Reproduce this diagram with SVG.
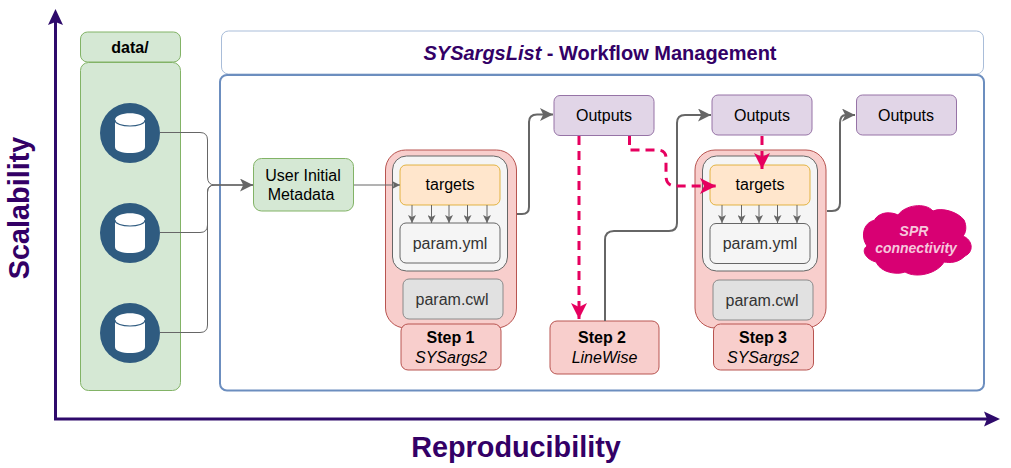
<svg xmlns="http://www.w3.org/2000/svg" width="1011" height="468" viewBox="0 0 1011 468">
<style>
text{font-family:"Liberation Sans",Arial,sans-serif;text-anchor:middle;fill:#000}
.n{font-size:16px}.b{font-weight:bold;font-size:16px}.i{font-style:italic;font-size:16px}
.g{fill:#d5e8d4;stroke:#82b366}.p{fill:#e1d5e7;stroke:#9673a6}.r{fill:#f8cecc;stroke:#b85450}
.o{fill:#ffe6cc;stroke:#d79b00;stroke-opacity:.7}.w{fill:#f5f5f5;stroke:#666}.c{fill:#e1e1e1;stroke:#8a8a8a}
.line{fill:none;stroke:#666;stroke-width:2}.thin{fill:none;stroke:#666;stroke-width:1}
.pink{fill:none;stroke:#e6005f;stroke-width:3;stroke-dasharray:9 6}
.ax{fill:none;stroke:#2e0a6b;stroke-width:3}
.at{fill:#330066;font-weight:bold;font-size:28.800px}
</style>
<defs>
<marker id="ah" markerUnits="userSpaceOnUse" markerWidth="13" markerHeight="13" refX="10" refY="5" viewBox="0 0 10 10" orient="auto"><path d="M0 0L10 5L0 10L2.500 5Z" fill="#666"/></marker>
<marker id="as" markerUnits="userSpaceOnUse" markerWidth="8" markerHeight="8" refX="10" refY="5" viewBox="0 0 10 10" orient="auto"><path d="M0 0L10 5L0 10L2.500 5Z" fill="#666"/></marker>
<marker id="ap" markerUnits="userSpaceOnUse" markerWidth="16" markerHeight="16" refX="10" refY="5" viewBox="0 0 10 10" orient="auto"><path d="M0 0L10 5L0 10L2.500 5Z" fill="#e6005f"/></marker>
<g id="dbicon"><circle r="30" fill="#2f5b80"/><path fill="#fff" d="M-15-13C-15-22 15-22 15-13V14C15 22-15 22-15 14Z"/><path d="M-15-13C-15-5 15-5 15-13" fill="none" stroke="#2f5b80" stroke-width="1.200"/></g>
</defs>

<g id="axes">
<path class="ax" d="M55.500 420V18M54 419H990"/>
<path d="M55.500 9L63 25L55.500 22L48 25Z" fill="#2e0a6b"/>
<path d="M1000 419L984 411.500L987 419L984 426.500Z" fill="#2e0a6b"/>
<text class="at" transform="translate(29 208) rotate(-90)">Scalability</text>
<text class="at" x="516" y="457">Reproducibility</text>
</g>

<g id="data">
<rect class="g" x="80.500" y="32" width="100" height="30" rx="7"/>
<text class="b" x="130" y="53">data/</text>
<rect class="g" x="80.500" y="62.500" width="100" height="328" rx="8"/>
<use href="#dbicon" x="130" y="133"/>
<use href="#dbicon" x="130" y="233"/>
<use href="#dbicon" x="130" y="333"/>
</g>

<g id="title"><rect x="221.500" y="31" width="762" height="43" rx="7" fill="#fff" stroke="#a9bdd9"/>
<text x="600" y="60" font-size="20" font-weight="bold" style="fill:#330066"><tspan font-style="italic">SYSargsList</tspan> - Workflow Management</text></g>
<g id="main"><rect x="220" y="75" width="764" height="315.500" rx="7" fill="#fff" stroke="#6c8ebf" stroke-width="2"/></g>

<g id="connectors-back">
<path class="thin" d="M160 132.500H200Q207.500 132.500 207.500 140V177Q207.500 185 215 185H253" marker-end="url(#ah)"/>
<path class="thin" d="M160 232.500H200Q207.500 232.500 207.500 225V192Q207.500 185 215 185H253"/>
<path class="thin" d="M160 332.500H200Q207.500 332.500 207.500 325V192Q207.500 185 215 185H253"/>
</g>

<g id="user"><rect class="g" x="253.500" y="158.500" width="100" height="52.500" rx="8"/>
<text class="n" x="303" y="181">User Initial</text><text class="n" x="301" y="200">Metadata</text></g>

<g id="step1">
<rect class="r" x="385.500" y="150" width="131" height="178" rx="20"/>
<rect x="392.500" y="156" width="115" height="115" rx="14" fill="#f5f5f5" stroke="#666"/>
<rect class="o" x="400" y="165" width="100" height="40" rx="6"/><text class="n" x="450" y="190">targets</text>
<rect class="w" x="400" y="223" width="100" height="40" rx="6"/><text class="n" x="450" y="249" style="fill:#333">param.yml</text>
<rect class="c" x="403" y="279" width="100" height="40" rx="6"/><text class="n" x="452" y="305" style="fill:#333">param.cwl</text>
<rect class="r" x="401" y="324" width="100" height="46" rx="7"/>
<text class="b" x="450.500" y="343">Step 1</text><text class="i" x="451" y="363">SYSargs2</text>
</g>

<g id="step3">
<rect class="r" x="695" y="150" width="131" height="178" rx="20"/>
<rect x="702.500" y="156" width="115" height="115" rx="14" fill="#f5f5f5" stroke="#666"/>
<rect class="o" x="710" y="165" width="100" height="40" rx="6"/><text class="n" x="760" y="190">targets</text>
<rect class="w" x="710" y="223.500" width="100" height="40" rx="6"/><text class="n" x="760" y="249" style="fill:#333">param.yml</text>
<rect class="c" x="713" y="280" width="100" height="40" rx="6"/><text class="n" x="762" y="306" style="fill:#333">param.cwl</text>
<rect class="r" x="713.500" y="324" width="100" height="46" rx="7"/>
<text class="b" x="763" y="343">Step 3</text><text class="i" x="763" y="363">SYSargs2</text>
</g>

<g id="step2"><rect class="r" x="550" y="321" width="109" height="53" rx="7"/>
<text class="b" x="602" y="343">Step 2</text><text class="i" x="604.500" y="363">LineWise</text></g>

<g id="outputs1"><rect class="p" x="554" y="95.500" width="100" height="40" rx="6"/><text class="n" x="604" y="121">Outputs</text></g>
<g id="outputs2"><rect class="p" x="712" y="95" width="100" height="40" rx="6"/><text class="n" x="762" y="121">Outputs</text></g>
<g id="outputs3"><rect class="p" x="856.500" y="95" width="100" height="40" rx="6"/><text class="n" x="906" y="121">Outputs</text></g>

<g id="cloud">
<path d="M875 219C881 211 892 212 898 215C905 205 925 202 933 211C942 207 958 212 964 220C967 226 966 233 963 236C973 240 974 252 965 256C958 263 950 263 944 262C938 273 917 279 905 272C897 275 881 273 876 262C865 259 861 250 867 246C861 238 862 223 875 220Z" fill="#d80073" stroke="#d80073" stroke-width="1"/>
<text x="914" y="236" font-size="14" font-style="italic" font-weight="bold" style="fill:#f6c6dc">SPR</text>
<text x="916" y="253" font-size="14" font-style="italic" font-weight="bold" style="fill:#f6c6dc">connectivity</text>
</g>

<g id="connectors">
<path class="thin" d="M354 185H400" marker-end="url(#as)"/>
<path class="line" d="M517 214H522Q529 214 529 207V122Q529 114.500 537 114.500H553" marker-end="url(#ah)"/>
<path class="line" d="M605 321V240Q605 231 614 231H669Q677 231 677 223V123Q677 115 685 115H711" marker-end="url(#ah)"/>
<path class="line" d="M827 211H832Q840 211 840 203V123Q840 115 846 115H855" marker-end="url(#ah)"/>
<path class="thin" d="M412 205V223" marker-end="url(#as)"/><path class="thin" d="M431.500 205V223" marker-end="url(#as)"/><path class="thin" d="M449 205V223" marker-end="url(#as)"/><path class="thin" d="M467.500 205V223" marker-end="url(#as)"/><path class="thin" d="M487 205V223" marker-end="url(#as)"/>
<path class="thin" d="M722 205V223" marker-end="url(#as)"/><path class="thin" d="M741.500 205V223" marker-end="url(#as)"/><path class="thin" d="M759 205V223" marker-end="url(#as)"/><path class="thin" d="M777.500 205V223" marker-end="url(#as)"/><path class="thin" d="M797 205V223" marker-end="url(#as)"/>
<path class="pink" d="M579 136V319" marker-end="url(#ap)"/>
<path class="pink" d="M629.500 136V150H657Q666 150 666 158V176Q666 186 676 186H716" marker-end="url(#ap)"/>
<path class="pink" d="M762 136V169" marker-end="url(#ap)"/>
</g>
</svg>
